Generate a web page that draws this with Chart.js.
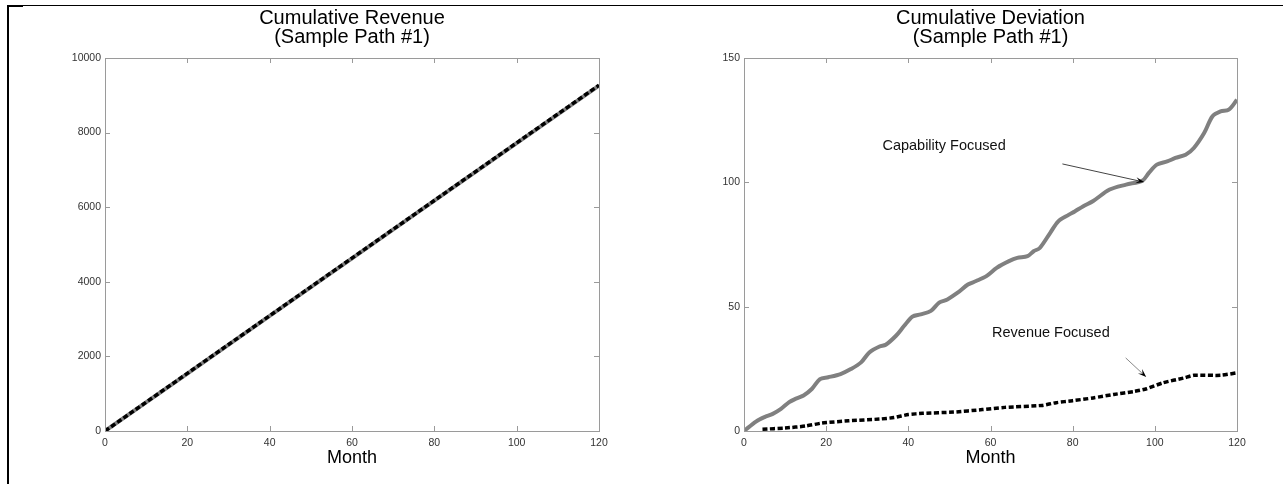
<!DOCTYPE html>
<html>
<head>
<meta charset="utf-8">
<script src="https://cdn.jsdelivr.net/npm/chart.js@4"></script>
<style>
  body { margin: 0; background: #fff; width: 1283px; height: 484px; overflow: hidden; position: relative; }
  canvas { position: absolute; top: 0; }
  .frame { position: absolute; background: #000; }
</style>
</head>
<body>
<div class="frame" style="left:7px;top:5px;width:1276px;height:1px"></div>
<div class="frame" style="left:7px;top:5px;width:16px;height:2px"></div>
<div class="frame" style="left:7px;top:5px;width:2px;height:479px"></div>
<canvas id="chartRevenue" width="640" height="484" style="left:0px"></canvas>
<canvas id="chartDeviation" width="644" height="484" style="left:639px"></canvas>
<script>
// cumulative revenue (left)
var mesesReceita = [0, 20, 40, 60, 80, 100, 120];
var receitaCapacidade = [0, 1540, 3085, 4630, 6175, 7720, 9260];
var receitaFocoReceita = [0, 1545, 3090, 4635, 6180, 7725, 9270];

// cumulative deviation (right)
var mesesCapacidade = [0, 3, 5, 7, 9, 11, 12.5, 14.5, 16.5, 18.5, 20.5, 23.5, 26, 28.5, 30.5, 33, 34.5, 37, 39, 41,
  43, 45.5, 47.5, 49.5, 52, 54.5, 56.5, 59, 61.5, 64.5, 66.5, 69, 70.5, 72, 74.5, 76.5, 79, 80.5, 82.5, 85,
  89, 93, 97, 98.5, 100.5, 103, 105, 107.5, 109.5, 112, 114, 116, 118, 120];
var desvioCapacidade = [0, 3.9, 5.6, 6.9, 8.9, 11.6, 12.9, 14.3, 16.9, 20.9, 21.6, 22.9, 24.9, 27.6, 31.6, 34, 34.7, 38.3, 42.3, 46,
  46.9, 48.3, 51.6, 52.9, 55.6, 58.9, 60.3, 62.3, 65.6, 68.3, 69.6, 70.3, 72.3, 73.6, 79.6, 84.3, 86.9, 88.3, 90.3, 92.5,
  97.1, 99.1, 100.7, 103.7, 107.1, 108.4, 109.8, 111.1, 113.8, 119.8, 126.5, 128.5, 129.2, 133.2];
var mesesReceitaFoco = [4.5, 10, 15, 19, 25.5, 33, 36.5, 40, 43.5, 51, 58, 63.5, 72.5, 76, 80, 85, 90, 95, 98, 102, 107, 109.5, 116, 120];
var desvioReceita = [0.7, 1.2, 2, 3.2, 4.1, 4.8, 5.4, 6.6, 7.1, 7.6, 8.6, 9.5, 10.3, 11.4, 12.2, 13.3, 14.7, 15.9, 17, 19.4, 21.3, 22.4, 22.4, 23.4];

var ticksMes = [0, 20, 40, 60, 80, 100, 120];
var ticksReceita = [0, 2000, 4000, 6000, 8000, 10000];
var ticksDesvio = [0, 50, 100, 150];

var fonte = 'Liberation Sans, Arial, sans-serif';

function pontos(xs, ys) {
  return xs.map(function (x, i) { return { x: x, y: ys[i] }; });
}

// caixa do grafico com ticks para dentro (estilo matlab)
var caixaPlugin = {
  id: 'caixa',
  afterDatasetsDraw: function (chart) {
    var ctx = chart.ctx, a = chart.chartArea;
    var sx = chart.scales.x, sy = chart.scales.y;
    ctx.save();
    ctx.strokeStyle = '#9a9a9a';
    ctx.lineWidth = 1;
    ctx.strokeRect(Math.round(a.left) + 0.5, Math.round(a.top) + 0.5, Math.round(a.right - a.left), Math.round(a.bottom - a.top));
    ctx.beginPath();
    sx.ticks.forEach(function (t) {
      var px = Math.round(sx.getPixelForValue(t.value)) + 0.5;
      ctx.moveTo(px, a.bottom); ctx.lineTo(px, a.bottom - 5);
      ctx.moveTo(px, a.top); ctx.lineTo(px, a.top + 5);
    });
    sy.ticks.forEach(function (t) {
      var py = Math.round(sy.getPixelForValue(t.value)) + 0.5;
      ctx.moveTo(a.left, py); ctx.lineTo(a.left + 5, py);
      ctx.moveTo(a.right, py); ctx.lineTo(a.right - 5, py);
    });
    ctx.stroke();
    ctx.restore();
  }
};

// anotacoes do grafico da direita (coordenadas em dados)
var anotacoes = [
  { texto: 'Capability Focused', tx: 48.7, ty: 114.6, x0: 77.5, y0: 107.4, x1: 97.4, y1: 100.1, cor: '#444' },
  { texto: 'Revenue Focused', tx: 74.7, ty: 39.4, x0: 92.9, y0: 29.4, x1: 97.9, y1: 21.7, cor: '#888' }
];

var anotacaoPlugin = {
  id: 'anotacao',
  afterDatasetsDraw: function (chart) {
    var ctx = chart.ctx, sx = chart.scales.x, sy = chart.scales.y;
    ctx.save();
    anotacoes.forEach(function (n) {
      ctx.fillStyle = '#111';
      ctx.font = '14.5px ' + fonte;
      ctx.textAlign = 'center';
      ctx.textBaseline = 'middle';
      ctx.fillText(n.texto, sx.getPixelForValue(n.tx), sy.getPixelForValue(n.ty));
      var x0 = sx.getPixelForValue(n.x0), y0 = sy.getPixelForValue(n.y0);
      var x1 = sx.getPixelForValue(n.x1), y1 = sy.getPixelForValue(n.y1);
      var ang = Math.atan2(y1 - y0, x1 - x0);
      ctx.strokeStyle = n.cor;
      ctx.lineWidth = 1;
      ctx.beginPath();
      ctx.moveTo(x0, y0);
      ctx.lineTo(x1 - 6 * Math.cos(ang), y1 - 6 * Math.sin(ang));
      ctx.stroke();
      ctx.fillStyle = '#000';
      ctx.beginPath();
      ctx.moveTo(x1, y1);
      ctx.lineTo(x1 - 9 * Math.cos(ang - 0.35), y1 - 9 * Math.sin(ang - 0.35));
      ctx.lineTo(x1 - 5 * Math.cos(ang), y1 - 5 * Math.sin(ang));
      ctx.lineTo(x1 - 9 * Math.cos(ang + 0.35), y1 - 9 * Math.sin(ang + 0.35));
      ctx.closePath();
      ctx.fill();
    });
    ctx.restore();
  }
};

function semSeparador(v) { return String(v); }

function opcoes(titulo, ticksY, maxY, padDireita) {
  return {
    responsive: false,
    animation: false,
    devicePixelRatio: 1,
    layout: { padding: { left: 0, right: padDireita, top: 0, bottom: 0 } },
    plugins: {
      legend: { display: false },
      tooltip: { enabled: false },
      title: {
        display: true,
        text: titulo,
        fullSize: false,
        color: '#000',
        font: { family: fonte, size: 20, weight: 'normal', lineHeight: 0.95 },
        padding: { top: 8.5, bottom: 11.5 }
      }
    },
    scales: {
      x: {
        type: 'linear',
        min: 0,
        max: 120,
        afterFit: function (s) { s.height = 53; },
        afterBuildTicks: function (s) { s.ticks = ticksMes.map(function (v) { return { value: v }; }); },
        grid: { display: false, drawTicks: false },
        border: { display: false },
        ticks: { padding: 6, color: '#333', font: { family: fonte, size: 10.5 }, maxRotation: 0, callback: semSeparador },
        title: {
          display: true,
          text: 'Month',
          color: '#000',
          font: { family: fonte, size: 18 },
          padding: { top: 0, bottom: 15 }
        }
      },
      y: {
        min: 0,
        max: maxY,
        afterFit: function (s) { s.width = 105; },
        afterBuildTicks: function (s) { s.ticks = ticksY.map(function (v) { return { value: v }; }); },
        grid: { display: false, drawTicks: false },
        border: { display: false },
        ticks: { padding: 4, color: '#333', font: { family: fonte, size: 10.5 }, callback: semSeparador }
      }
    }
  };
}

new Chart(document.getElementById('chartRevenue'), {
  type: 'line',
  data: {
    datasets: [{
      label: 'Capability Focused',
      data: pontos(mesesReceita, receitaCapacidade),
      borderColor: '#808080',
      borderWidth: 4,
      pointRadius: 0,
      order: 2,
      fill: false
    }, {
      label: 'Revenue Focused',
      data: pontos(mesesReceita, receitaFocoReceita),
      borderColor: '#000',
      borderWidth: 3.5,
      borderDash: [5, 2.5],
      pointRadius: 0,
      order: 1,
      fill: false
    }]
  },
  options: opcoes(['Cumulative Revenue', '(Sample Path #1)'], ticksReceita, 10000, 41),
  plugins: [caixaPlugin]
});

new Chart(document.getElementById('chartDeviation'), {
  type: 'line',
  data: {
    datasets: [{
      label: 'Capability Focused',
      data: pontos(mesesCapacidade, desvioCapacidade),
      borderColor: '#808080',
      borderWidth: 4,
      pointRadius: 0,
      tension: 0.3,
      order: 2,
      fill: false
    }, {
      label: 'Revenue Focused',
      data: pontos(mesesReceitaFoco, desvioReceita),
      borderColor: '#000',
      borderWidth: 3.5,
      borderDash: [5, 2.5],
      pointRadius: 0,
      tension: 0.2,
      order: 1,
      fill: false
    }]
  },
  options: opcoes(['Cumulative Deviation', '(Sample Path #1)'], ticksDesvio, 150, 46),
  plugins: [caixaPlugin, anotacaoPlugin]
});
</script>
</body>
</html>
